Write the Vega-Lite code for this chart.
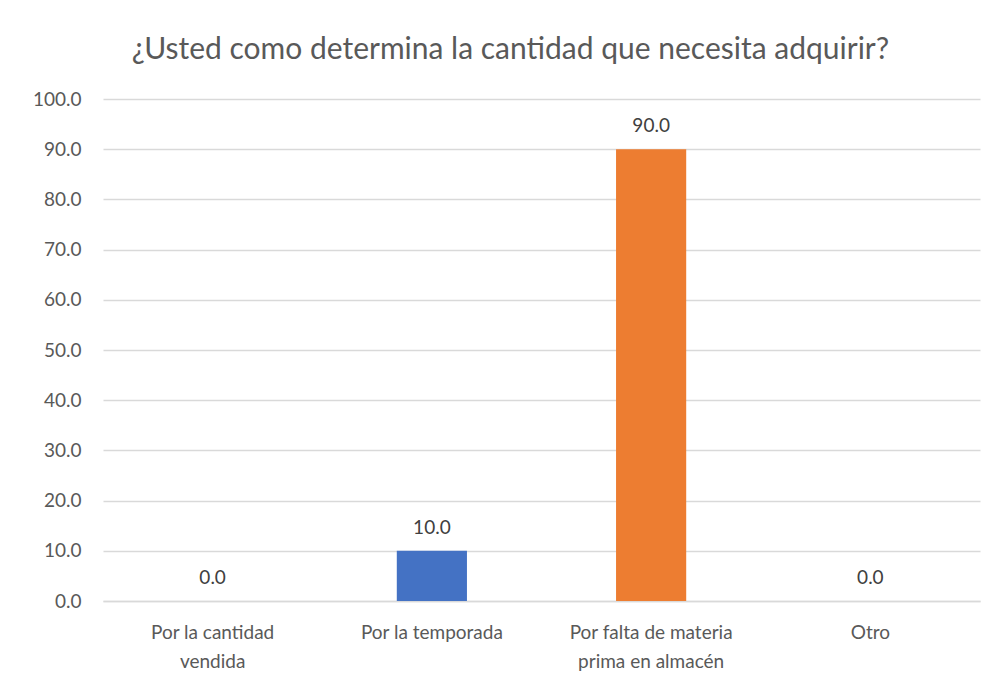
{
  "$schema": "https://vega.github.io/schema/vega-lite/v6.json",
  "width": 877,
  "height": 502,
  "autosize": {"type": "none"},
  "padding": {"left": 103, "top": 99, "right": 16, "bottom": 88},
  "background": "white",
  "title": {
    "text": "¿Usted como determina la cantidad que necesita adquirir?",
    "font": "Lato",
    "fontSize": 30,
    "fontWeight": "normal",
    "color": "#595959",
    "anchor": "middle",
    "dx": -31,
    "offset": 25
  },
  "data": {
    "values": [
      {"categoria": "Por la cantidad vendida", "valor": 0.0},
      {"categoria": "Por la temporada", "valor": 10.0},
      {"categoria": "Por falta de materia prima en almacén", "valor": 90.0},
      {"categoria": "Otro", "valor": 0.0}
    ]
  },
  "config": {
    "view": {"stroke": null},
    "font": "Lato"
  },
  "encoding": {
    "x": {
      "field": "categoria",
      "type": "nominal",
      "sort": null,
      "scale": {"paddingInner": 0.68, "paddingOuter": 0.34},
      "axis": {
        "title": null,
        "labelAngle": 0,
        "labelFont": "Lato",
        "labelFontSize": 19,
        "labelColor": "#595959",
        "labelPadding": 31,
        "labelLineHeight": 29,
        "labelBaseline": "middle",
        "labelExpr": "datum.label == 'Por la cantidad vendida' ? ['Por la cantidad', 'vendida'] : datum.label == 'Por falta de materia prima en almacén' ? ['Por falta de materia', 'prima en almacén'] : datum.label",
        "ticks": false,
        "domainColor": "#d9d9d9",
        "domainWidth": 1.5,
        "grid": false
      }
    },
    "y": {
      "field": "valor",
      "type": "quantitative",
      "scale": {"domain": [0, 100], "nice": false},
      "axis": {
        "title": null,
        "values": [0, 10, 20, 30, 40, 50, 60, 70, 80, 90, 100],
        "format": ".1f",
        "labelFont": "Lato",
        "labelFontSize": 19,
        "labelColor": "#595959",
        "labelPadding": 22,
        "ticks": false,
        "domain": false,
        "gridColor": "#d9d9d9",
        "gridWidth": 1.5
      }
    }
  },
  "layer": [
    {
      "mark": {"type": "bar"},
      "encoding": {
        "color": {
          "field": "categoria",
          "type": "nominal",
          "scale": {
            "domain": ["Por la cantidad vendida", "Por la temporada", "Por falta de materia prima en almacén", "Otro"],
            "range": ["#4472C4", "#4472C4", "#ED7D31", "#A5A5A5"]
          },
          "legend": null
        }
      }
    },
    {
      "mark": {"type": "text", "baseline": "middle", "dy": -23, "fontSize": 19, "font": "Lato", "color": "#404040"},
      "encoding": {
        "text": {"field": "valor", "type": "quantitative", "format": ".1f"}
      }
    }
  ]
}
